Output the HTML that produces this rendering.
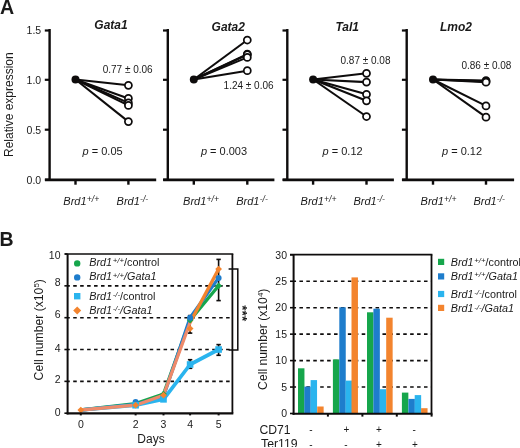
<!DOCTYPE html>
<html><head><meta charset="utf-8"><style>
html,body{margin:0;padding:0;background:#fff;}
svg{display:block;will-change:transform;font-family:"Liberation Sans",sans-serif;}
</style></head><body>
<svg width="520" height="448" viewBox="0 0 520 448">
<rect width="520" height="448" fill="#fff"/>
<text x="0" y="13.9" font-size="19.6" text-anchor="start" font-weight="bold" font-style="normal" fill="#1a1a1a" >A</text>
<text transform="translate(12.6,157) rotate(-90)" font-size="12" fill="#1a1a1a">Relative expression</text>
<text x="41.2" y="34.4" font-size="10.5" text-anchor="end" font-weight="normal" font-style="normal" fill="#1a1a1a" >1.5</text>
<text x="41.2" y="83.7" font-size="10.5" text-anchor="end" font-weight="normal" font-style="normal" fill="#1a1a1a" >1.0</text>
<text x="41.2" y="133.6" font-size="10.5" text-anchor="end" font-weight="normal" font-style="normal" fill="#1a1a1a" >0.5</text>
<text x="41.2" y="183.6" font-size="10.5" text-anchor="end" font-weight="normal" font-style="normal" fill="#1a1a1a" >0.0</text>
<line x1="49.6" y1="29" x2="49.6" y2="180.9" stroke="#0e0c0c" stroke-width="2.4" />
<line x1="44.8" y1="30.5" x2="49.6" y2="30.5" stroke="#0e0c0c" stroke-width="2.2" />
<line x1="44.8" y1="79.8" x2="49.6" y2="79.8" stroke="#0e0c0c" stroke-width="2.2" />
<line x1="44.8" y1="129.7" x2="49.6" y2="129.7" stroke="#0e0c0c" stroke-width="2.2" />
<line x1="44.8" y1="179.7" x2="49.6" y2="179.7" stroke="#0e0c0c" stroke-width="2.2" />
<line x1="45" y1="179.8" x2="156.2" y2="179.8" stroke="#0e0c0c" stroke-width="2.7" />
<line x1="75.5" y1="179.7" x2="75.5" y2="184.7" stroke="#0e0c0c" stroke-width="2.4" />
<line x1="128.4" y1="179.7" x2="128.4" y2="184.7" stroke="#0e0c0c" stroke-width="2.4" />
<text x="94.3" y="29.4" font-size="12.0" text-anchor="start" font-weight="bold" font-style="italic" fill="#1a1a1a" >Gata1</text>
<text x="102.7" y="72.6" font-size="10" text-anchor="start" font-weight="normal" font-style="normal" fill="#1a1a1a" >0.77 ± 0.06</text>
<text x="82.6" y="155.0" font-size="11" fill="#1a1a1a"><tspan font-style="italic">p</tspan> = 0.05</text>
<text x="63.3" y="204.7" font-size="11" font-style="italic" fill="#1a1a1a">Brd1<tspan font-size="8.6" dy="-2.3" dx="0.2">+/+</tspan></text>
<text x="116.6" y="204.7" font-size="11" font-style="italic" fill="#1a1a1a">Brd1<tspan font-size="8.6" dy="-2.3" dx="0.2">-/-</tspan></text>
<line x1="75.5" y1="79.5" x2="128.4" y2="85.3" stroke="#0e0c0c" stroke-width="2.1" />
<line x1="75.5" y1="79.5" x2="128.4" y2="98.4" stroke="#0e0c0c" stroke-width="2.1" />
<line x1="75.5" y1="79.5" x2="128.4" y2="102.9" stroke="#0e0c0c" stroke-width="2.1" />
<line x1="75.5" y1="79.5" x2="128.4" y2="105.4" stroke="#0e0c0c" stroke-width="2.1" />
<line x1="75.5" y1="79.5" x2="128.4" y2="121.6" stroke="#0e0c0c" stroke-width="2.1" />
<circle cx="75.5" cy="79.5" r="4" fill="#0e0c0c"/>
<circle cx="128.4" cy="85.3" r="3.5" fill="#fff" stroke="#0e0c0c" stroke-width="1.75"/>
<circle cx="128.4" cy="98.4" r="3.5" fill="#fff" stroke="#0e0c0c" stroke-width="1.75"/>
<circle cx="128.4" cy="102.9" r="3.5" fill="#fff" stroke="#0e0c0c" stroke-width="1.75"/>
<circle cx="128.4" cy="105.4" r="3.5" fill="#fff" stroke="#0e0c0c" stroke-width="1.75"/>
<circle cx="128.4" cy="121.6" r="3.5" fill="#fff" stroke="#0e0c0c" stroke-width="1.75"/>
<line x1="167.8" y1="29" x2="167.8" y2="180.9" stroke="#0e0c0c" stroke-width="2.4" />
<line x1="163" y1="30.5" x2="167.8" y2="30.5" stroke="#0e0c0c" stroke-width="2.2" />
<line x1="163" y1="79.8" x2="167.8" y2="79.8" stroke="#0e0c0c" stroke-width="2.2" />
<line x1="163" y1="129.7" x2="167.8" y2="129.7" stroke="#0e0c0c" stroke-width="2.2" />
<line x1="163" y1="179.7" x2="167.8" y2="179.7" stroke="#0e0c0c" stroke-width="2.2" />
<line x1="163.2" y1="179.8" x2="274.4" y2="179.8" stroke="#0e0c0c" stroke-width="2.7" />
<line x1="193.8" y1="179.7" x2="193.8" y2="184.7" stroke="#0e0c0c" stroke-width="2.4" />
<line x1="247.3" y1="179.7" x2="247.3" y2="184.7" stroke="#0e0c0c" stroke-width="2.4" />
<text x="211.6" y="30.6" font-size="12.0" text-anchor="start" font-weight="bold" font-style="italic" fill="#1a1a1a" >Gata2</text>
<text x="223.6" y="89.4" font-size="10" text-anchor="start" font-weight="normal" font-style="normal" fill="#1a1a1a" >1.24 ± 0.06</text>
<text x="200.9" y="154.9" font-size="11" fill="#1a1a1a"><tspan font-style="italic">p</tspan> = 0.003</text>
<text x="183.1" y="204.7" font-size="11" font-style="italic" fill="#1a1a1a">Brd1<tspan font-size="8.6" dy="-2.3" dx="0.2">+/+</tspan></text>
<text x="236.2" y="204.7" font-size="11" font-style="italic" fill="#1a1a1a">Brd1<tspan font-size="8.6" dy="-2.3" dx="0.2">-/-</tspan></text>
<line x1="193.8" y1="79.5" x2="247.3" y2="40" stroke="#0e0c0c" stroke-width="2.1" />
<line x1="193.8" y1="79.5" x2="247.3" y2="54.2" stroke="#0e0c0c" stroke-width="2.1" />
<line x1="193.8" y1="79.5" x2="247.3" y2="54.6" stroke="#0e0c0c" stroke-width="2.1" />
<line x1="193.8" y1="79.5" x2="247.3" y2="57.4" stroke="#0e0c0c" stroke-width="2.1" />
<line x1="193.8" y1="79.5" x2="247.3" y2="70.7" stroke="#0e0c0c" stroke-width="2.1" />
<circle cx="193.8" cy="79.5" r="4" fill="#0e0c0c"/>
<circle cx="247.3" cy="40.0" r="3.5" fill="#fff" stroke="#0e0c0c" stroke-width="1.75"/>
<circle cx="247.3" cy="54.2" r="3.5" fill="#fff" stroke="#0e0c0c" stroke-width="1.75"/>
<circle cx="247.3" cy="54.6" r="3.5" fill="#fff" stroke="#0e0c0c" stroke-width="1.75"/>
<circle cx="247.3" cy="57.4" r="3.5" fill="#fff" stroke="#0e0c0c" stroke-width="1.75"/>
<circle cx="247.3" cy="70.7" r="3.5" fill="#fff" stroke="#0e0c0c" stroke-width="1.75"/>
<line x1="287.3" y1="29" x2="287.3" y2="180.9" stroke="#0e0c0c" stroke-width="2.4" />
<line x1="282.5" y1="30.5" x2="287.3" y2="30.5" stroke="#0e0c0c" stroke-width="2.2" />
<line x1="282.5" y1="79.8" x2="287.3" y2="79.8" stroke="#0e0c0c" stroke-width="2.2" />
<line x1="282.5" y1="129.7" x2="287.3" y2="129.7" stroke="#0e0c0c" stroke-width="2.2" />
<line x1="282.5" y1="179.7" x2="287.3" y2="179.7" stroke="#0e0c0c" stroke-width="2.2" />
<line x1="282.7" y1="179.8" x2="393.9" y2="179.8" stroke="#0e0c0c" stroke-width="2.7" />
<line x1="313.1" y1="179.7" x2="313.1" y2="184.7" stroke="#0e0c0c" stroke-width="2.4" />
<line x1="366.5" y1="179.7" x2="366.5" y2="184.7" stroke="#0e0c0c" stroke-width="2.4" />
<text x="335.4" y="30.7" font-size="12.0" text-anchor="start" font-weight="bold" font-style="italic" fill="#1a1a1a" >Tal1</text>
<text x="340.5" y="63.5" font-size="10" text-anchor="start" font-weight="normal" font-style="normal" fill="#1a1a1a" >0.87 ± 0.08</text>
<text x="322.6" y="155.0" font-size="11" fill="#1a1a1a"><tspan font-style="italic">p</tspan> = 0.12</text>
<text x="300.6" y="204.7" font-size="11" font-style="italic" fill="#1a1a1a">Brd1<tspan font-size="8.6" dy="-2.3" dx="0.2">+/+</tspan></text>
<text x="353.4" y="204.7" font-size="11" font-style="italic" fill="#1a1a1a">Brd1<tspan font-size="8.6" dy="-2.3" dx="0.2">-/-</tspan></text>
<line x1="313.1" y1="79.5" x2="366.5" y2="73.3" stroke="#0e0c0c" stroke-width="2.1" />
<line x1="313.1" y1="79.5" x2="366.5" y2="82.1" stroke="#0e0c0c" stroke-width="2.1" />
<line x1="313.1" y1="79.5" x2="366.5" y2="94.3" stroke="#0e0c0c" stroke-width="2.1" />
<line x1="313.1" y1="79.5" x2="366.5" y2="100.8" stroke="#0e0c0c" stroke-width="2.1" />
<line x1="313.1" y1="79.5" x2="366.5" y2="116.5" stroke="#0e0c0c" stroke-width="2.1" />
<circle cx="313.1" cy="79.5" r="4" fill="#0e0c0c"/>
<circle cx="366.5" cy="73.3" r="3.5" fill="#fff" stroke="#0e0c0c" stroke-width="1.75"/>
<circle cx="366.5" cy="82.1" r="3.5" fill="#fff" stroke="#0e0c0c" stroke-width="1.75"/>
<circle cx="366.5" cy="94.3" r="3.5" fill="#fff" stroke="#0e0c0c" stroke-width="1.75"/>
<circle cx="366.5" cy="100.8" r="3.5" fill="#fff" stroke="#0e0c0c" stroke-width="1.75"/>
<circle cx="366.5" cy="116.5" r="3.5" fill="#fff" stroke="#0e0c0c" stroke-width="1.75"/>
<line x1="406.7" y1="29" x2="406.7" y2="180.9" stroke="#0e0c0c" stroke-width="2.4" />
<line x1="401.9" y1="30.5" x2="406.7" y2="30.5" stroke="#0e0c0c" stroke-width="2.2" />
<line x1="401.9" y1="79.8" x2="406.7" y2="79.8" stroke="#0e0c0c" stroke-width="2.2" />
<line x1="401.9" y1="129.7" x2="406.7" y2="129.7" stroke="#0e0c0c" stroke-width="2.2" />
<line x1="401.9" y1="179.7" x2="406.7" y2="179.7" stroke="#0e0c0c" stroke-width="2.2" />
<line x1="402.1" y1="179.8" x2="514.1" y2="179.8" stroke="#0e0c0c" stroke-width="2.7" />
<line x1="433" y1="179.7" x2="433" y2="184.7" stroke="#0e0c0c" stroke-width="2.4" />
<line x1="486" y1="179.7" x2="486" y2="184.7" stroke="#0e0c0c" stroke-width="2.4" />
<text x="440" y="30.6" font-size="12.0" text-anchor="start" font-weight="bold" font-style="italic" fill="#1a1a1a" >Lmo2</text>
<text x="461.4" y="68.9" font-size="10" text-anchor="start" font-weight="normal" font-style="normal" fill="#1a1a1a" >0.86 ± 0.08</text>
<text x="442.0" y="155.0" font-size="11" fill="#1a1a1a"><tspan font-style="italic">p</tspan> = 0.12</text>
<text x="420.6" y="204.7" font-size="11" font-style="italic" fill="#1a1a1a">Brd1<tspan font-size="8.6" dy="-2.3" dx="0.2">+/+</tspan></text>
<text x="473.4" y="204.7" font-size="11" font-style="italic" fill="#1a1a1a">Brd1<tspan font-size="8.6" dy="-2.3" dx="0.2">-/-</tspan></text>
<line x1="433" y1="79.5" x2="486" y2="80.6" stroke="#0e0c0c" stroke-width="2.1" />
<line x1="433" y1="79.5" x2="486" y2="81.4" stroke="#0e0c0c" stroke-width="2.1" />
<line x1="433" y1="79.5" x2="486" y2="82.2" stroke="#0e0c0c" stroke-width="2.1" />
<line x1="433" y1="79.5" x2="486" y2="105.9" stroke="#0e0c0c" stroke-width="2.1" />
<line x1="433" y1="79.5" x2="486" y2="117.2" stroke="#0e0c0c" stroke-width="2.1" />
<circle cx="433.0" cy="79.5" r="4" fill="#0e0c0c"/>
<circle cx="486.0" cy="80.6" r="3.5" fill="#fff" stroke="#0e0c0c" stroke-width="1.75"/>
<circle cx="486.0" cy="81.4" r="3.5" fill="#fff" stroke="#0e0c0c" stroke-width="1.75"/>
<circle cx="486.0" cy="82.2" r="3.5" fill="#fff" stroke="#0e0c0c" stroke-width="1.75"/>
<circle cx="486.0" cy="105.9" r="3.5" fill="#fff" stroke="#0e0c0c" stroke-width="1.75"/>
<circle cx="486.0" cy="117.2" r="3.5" fill="#fff" stroke="#0e0c0c" stroke-width="1.75"/>
<text x="-0.5" y="245.5" font-size="19.5" text-anchor="start" font-weight="bold" font-style="normal" fill="#1a1a1a" >B</text>
<line x1="67.6" y1="381.36" x2="232.4" y2="381.36" stroke="#0e0c0c" stroke-width="1.6" stroke-dasharray="3.55 3.4" stroke-dashoffset="1.35"/>
<line x1="67.6" y1="349.52" x2="232.4" y2="349.52" stroke="#0e0c0c" stroke-width="1.6" stroke-dasharray="3.55 3.4" stroke-dashoffset="1.35"/>
<line x1="67.6" y1="317.68" x2="232.4" y2="317.68" stroke="#0e0c0c" stroke-width="1.6" stroke-dasharray="3.55 3.4" stroke-dashoffset="1.35"/>
<line x1="67.6" y1="285.84" x2="232.4" y2="285.84" stroke="#0e0c0c" stroke-width="1.6" stroke-dasharray="3.55 3.4" stroke-dashoffset="1.35"/>
<line x1="64.4" y1="413.2" x2="67.6" y2="413.2" stroke="#0e0c0c" stroke-width="1.6" />
<line x1="64.4" y1="381.36" x2="67.6" y2="381.36" stroke="#0e0c0c" stroke-width="1.6" />
<line x1="64.4" y1="349.52" x2="67.6" y2="349.52" stroke="#0e0c0c" stroke-width="1.6" />
<line x1="64.4" y1="317.68" x2="67.6" y2="317.68" stroke="#0e0c0c" stroke-width="1.6" />
<line x1="64.4" y1="285.84" x2="67.6" y2="285.84" stroke="#0e0c0c" stroke-width="1.6" />
<line x1="64.4" y1="254" x2="67.6" y2="254" stroke="#0e0c0c" stroke-width="1.6" />
<text x="60.5" y="415.9" font-size="10.5" text-anchor="end" font-weight="normal" font-style="normal" fill="#1a1a1a" >0</text>
<text x="60.5" y="382.6" font-size="10.5" text-anchor="end" font-weight="normal" font-style="normal" fill="#1a1a1a" >2</text>
<text x="60.5" y="351.7" font-size="10.5" text-anchor="end" font-weight="normal" font-style="normal" fill="#1a1a1a" >4</text>
<text x="60.5" y="318.1" font-size="10.5" text-anchor="end" font-weight="normal" font-style="normal" fill="#1a1a1a" >6</text>
<text x="60.5" y="286.3" font-size="10.5" text-anchor="end" font-weight="normal" font-style="normal" fill="#1a1a1a" >8</text>
<text x="60.5" y="258.7" font-size="10.5" text-anchor="end" font-weight="normal" font-style="normal" fill="#1a1a1a" >10</text>
<line x1="80.8" y1="413.4" x2="80.8" y2="415.4" stroke="#0e0c0c" stroke-width="2" />
<text x="80.8" y="428.1" font-size="10.5" text-anchor="middle" font-weight="normal" font-style="normal" fill="#1a1a1a" >0</text>
<line x1="135.6" y1="413.4" x2="135.6" y2="415.4" stroke="#0e0c0c" stroke-width="2" />
<text x="135.6" y="428.1" font-size="10.5" text-anchor="middle" font-weight="normal" font-style="normal" fill="#1a1a1a" >2</text>
<line x1="163.5" y1="413.4" x2="163.5" y2="415.4" stroke="#0e0c0c" stroke-width="2" />
<text x="163.5" y="428.1" font-size="10.5" text-anchor="middle" font-weight="normal" font-style="normal" fill="#1a1a1a" >3</text>
<line x1="190.1" y1="413.4" x2="190.1" y2="415.4" stroke="#0e0c0c" stroke-width="2" />
<text x="190.1" y="428.1" font-size="10.5" text-anchor="middle" font-weight="normal" font-style="normal" fill="#1a1a1a" >4</text>
<line x1="218.6" y1="413.4" x2="218.6" y2="415.4" stroke="#0e0c0c" stroke-width="2" />
<text x="218.6" y="428.1" font-size="10.5" text-anchor="middle" font-weight="normal" font-style="normal" fill="#1a1a1a" >5</text>
<text x="151" y="443.4" font-size="12" text-anchor="middle" font-weight="normal" font-style="normal" fill="#1a1a1a" >Days</text>
<text transform="translate(43.0,380.4) rotate(-90)" font-size="12.2" fill="#1a1a1a">Cell number (x10<tspan font-size="8" dy="-4.5">5</tspan><tspan dy="4.5">)</tspan></text>
<circle cx="77.2" cy="263.4" r="3.2" fill="#16a64c"/>
<text x="89.3" y="265.7" font-size="10.8" fill="#1a1a1a"><tspan font-style="italic">Brd1</tspan><tspan font-style="italic" font-size="7.8" dy="-2.5" dx="0.6">+/+</tspan><tspan dy="2.5">/control</tspan></text>
<circle cx="77.2" cy="277.4" r="3.2" fill="#1e7dcc"/>
<text x="89.3" y="280.1" font-size="10.8" fill="#1a1a1a"><tspan font-style="italic">Brd1</tspan><tspan font-style="italic" font-size="7.8" dy="-2.5" dx="0.6">+/+</tspan><tspan dy="2.5"><tspan font-style="italic">/Gata1</tspan></tspan></text>
<rect x="74" y="293" width="6.4" height="6.4" fill="#2ab4ee"/>
<text x="89.3" y="299.7" font-size="10.8" fill="#1a1a1a"><tspan font-style="italic">Brd1</tspan><tspan font-style="italic" font-size="7.8" dy="-2.5" dx="0.6">-/-</tspan><tspan dy="2.5">/control</tspan></text>
<polygon points="77.2,306.4 81.2,310.4 77.2,314.4 73.2,310.4" fill="#f3842e"/>
<text x="89.3" y="313.8" font-size="10.8" fill="#1a1a1a"><tspan font-style="italic">Brd1</tspan><tspan font-style="italic" font-size="7.8" dy="-2.5" dx="0.6">-/-</tspan><tspan dy="2.5"><tspan font-style="italic">/Gata1</tspan></tspan></text>
<line x1="218.6" y1="259.4" x2="218.6" y2="300.6" stroke="#0e0c0c" stroke-width="1.6" />
<line x1="216.4" y1="259.4" x2="220.8" y2="259.4" stroke="#0e0c0c" stroke-width="1.6" />
<line x1="216.4" y1="300.6" x2="220.8" y2="300.6" stroke="#0e0c0c" stroke-width="1.6" />
<line x1="190.1" y1="315.6" x2="190.1" y2="333.1" stroke="#0e0c0c" stroke-width="1.6" />
<line x1="187.9" y1="315.6" x2="192.3" y2="315.6" stroke="#0e0c0c" stroke-width="1.6" />
<line x1="187.9" y1="333.1" x2="192.3" y2="333.1" stroke="#0e0c0c" stroke-width="1.6" />
<line x1="190.1" y1="359.7" x2="190.1" y2="368.3" stroke="#0e0c0c" stroke-width="1.6" />
<line x1="187.9" y1="359.7" x2="192.3" y2="359.7" stroke="#0e0c0c" stroke-width="1.6" />
<line x1="187.9" y1="368.3" x2="192.3" y2="368.3" stroke="#0e0c0c" stroke-width="1.6" />
<line x1="218.6" y1="344.6" x2="218.6" y2="355.3" stroke="#0e0c0c" stroke-width="1.6" />
<line x1="216.4" y1="344.6" x2="220.8" y2="344.6" stroke="#0e0c0c" stroke-width="1.6" />
<line x1="216.4" y1="355.3" x2="220.8" y2="355.3" stroke="#0e0c0c" stroke-width="1.6" />
<polyline points="80.8,410.0 135.6,403.6 163.5,394.1 190.1,320.1 218.6,285.8" fill="none" stroke="#16a64c" stroke-width="3.3" stroke-linejoin="round"/>
<polyline points="80.8,410.0 135.6,404.3 163.5,396.5 190.1,317.7 218.6,277.9" fill="none" stroke="#1e7dcc" stroke-width="3.3" stroke-linejoin="round"/>
<polyline points="80.8,410.0 135.6,405.2 163.5,399.3 190.1,364.5 218.6,349.5" fill="none" stroke="#2ab4ee" stroke-width="3.6999999999999997" stroke-linejoin="round"/>
<polyline points="80.8,410.0 135.6,405.2 163.5,395.2 190.1,322.5" fill="none" stroke="#ee8a6a" stroke-width="3.3" stroke-linejoin="round"/>
<polyline points="190.1,322.5 218.6,269.1" fill="none" stroke="#f3842e" stroke-width="3.3" stroke-linejoin="round"/>
<polygon points="135.6,400.27299999999997 138.975,403.64799999999997 135.6,407.02299999999997 132.225,403.64799999999997" fill="#16a64c"/>
<polygon points="163.5,390.721 166.875,394.096 163.5,397.471 160.125,394.096" fill="#16a64c"/>
<polygon points="190.1,316.693 193.475,320.068 190.1,323.443 186.725,320.068" fill="#16a64c"/>
<polygon points="218.6,282.465 221.975,285.84 218.6,289.215 215.225,285.84" fill="#16a64c"/>
<circle cx="135.6" cy="402.056" r="3.0" fill="#1e7dcc"/>
<circle cx="163.5" cy="396.484" r="3.0" fill="#1e7dcc"/>
<circle cx="190.1" cy="317.68" r="3.0" fill="#1e7dcc"/>
<circle cx="218.6" cy="277.88" r="3.0" fill="#1e7dcc"/>
<rect x="132.3" y="401.94" width="6.6" height="6.6" fill="#2ab4ee"/>
<rect x="160.2" y="396.05" width="6.6" height="6.6" fill="#2ab4ee"/>
<rect x="186.8" y="361.18" width="6.6" height="6.6" fill="#2ab4ee"/>
<rect x="215.3" y="346.22" width="6.6" height="6.6" fill="#2ab4ee"/>
<polygon points="80.8,406.64099999999996 84.175,410.01599999999996 80.8,413.39099999999996 77.425,410.01599999999996" fill="#f3842e"/>
<polygon points="135.6,401.865 138.975,405.24 135.6,408.615 132.225,405.24" fill="#f3842e"/>
<polygon points="163.5,391.8354 166.875,395.2104 163.5,398.5854 160.125,395.2104" fill="#f3842e"/>
<polygon points="190.1,325.13059999999996 193.475,328.50559999999996 190.1,331.88059999999996 186.725,328.50559999999996" fill="#f3842e"/>
<polygon points="218.6,265.74899999999997 221.975,269.12399999999997 218.6,272.49899999999997 215.225,269.12399999999997" fill="#f3842e"/>
<line x1="67.6" y1="254" x2="67.6" y2="414.4" stroke="#0e0c0c" stroke-width="2" />
<line x1="65.1" y1="254" x2="233.3" y2="254" stroke="#0e0c0c" stroke-width="1.7" />
<line x1="232.4" y1="254" x2="232.4" y2="413.4" stroke="#0e0c0c" stroke-width="1.8" />
<line x1="66.6" y1="413.4" x2="233.3" y2="413.4" stroke="#0e0c0c" stroke-width="2.1" />
<polyline points="228.6,269 237.8,269 237.8,350 228.6,350" fill="none" stroke="#0e0c0c" stroke-width="1.5"/>
<text transform="translate(237.6,305.3) rotate(90)" font-size="13.6" font-weight="bold" fill="#1a1a1a">***</text>
<line x1="293.6" y1="387.05" x2="431.5" y2="387.05" stroke="#0e0c0c" stroke-width="1.6" stroke-dasharray="3.55 3.37" stroke-dashoffset="1.1"/>
<line x1="293.6" y1="360.6" x2="431.5" y2="360.6" stroke="#0e0c0c" stroke-width="1.6" stroke-dasharray="3.55 3.37" stroke-dashoffset="1.1"/>
<line x1="293.6" y1="334.15" x2="431.5" y2="334.15" stroke="#0e0c0c" stroke-width="1.6" stroke-dasharray="3.55 3.37" stroke-dashoffset="1.1"/>
<line x1="293.6" y1="307.7" x2="431.5" y2="307.7" stroke="#0e0c0c" stroke-width="1.6" stroke-dasharray="3.55 3.37" stroke-dashoffset="1.1"/>
<line x1="293.6" y1="281.25" x2="431.5" y2="281.25" stroke="#0e0c0c" stroke-width="1.6" stroke-dasharray="3.55 3.37" stroke-dashoffset="1.1"/>
<line x1="290" y1="413.5" x2="293.6" y2="413.5" stroke="#0e0c0c" stroke-width="1.6" />
<text x="287" y="417.2" font-size="10.5" text-anchor="end" font-weight="normal" font-style="normal" fill="#1a1a1a" >0</text>
<line x1="290" y1="387.05" x2="293.6" y2="387.05" stroke="#0e0c0c" stroke-width="1.6" />
<text x="287" y="390.75" font-size="10.5" text-anchor="end" font-weight="normal" font-style="normal" fill="#1a1a1a" >5</text>
<line x1="290" y1="360.6" x2="293.6" y2="360.6" stroke="#0e0c0c" stroke-width="1.6" />
<text x="287" y="364.3" font-size="10.5" text-anchor="end" font-weight="normal" font-style="normal" fill="#1a1a1a" >10</text>
<line x1="290" y1="334.15" x2="293.6" y2="334.15" stroke="#0e0c0c" stroke-width="1.6" />
<text x="287" y="337.85" font-size="10.5" text-anchor="end" font-weight="normal" font-style="normal" fill="#1a1a1a" >15</text>
<line x1="290" y1="307.7" x2="293.6" y2="307.7" stroke="#0e0c0c" stroke-width="1.6" />
<text x="287" y="311.4" font-size="10.5" text-anchor="end" font-weight="normal" font-style="normal" fill="#1a1a1a" >20</text>
<line x1="290" y1="281.25" x2="293.6" y2="281.25" stroke="#0e0c0c" stroke-width="1.6" />
<text x="287" y="284.95" font-size="10.5" text-anchor="end" font-weight="normal" font-style="normal" fill="#1a1a1a" >25</text>
<line x1="290" y1="254.8" x2="293.6" y2="254.8" stroke="#0e0c0c" stroke-width="1.6" />
<text x="287" y="258.5" font-size="10.5" text-anchor="end" font-weight="normal" font-style="normal" fill="#1a1a1a" >30</text>
<rect x="298" y="368.3" width="6.45" height="45.5" fill="#16a64c"/>
<rect x="304.3" y="386.6" width="6.45" height="27.2" fill="#1e7dcc"/>
<rect x="310.6" y="380.1" width="6.45" height="33.7" fill="#2ab4ee"/>
<rect x="317.2" y="406.5" width="6.45" height="7.3" fill="#f3842e"/>
<rect x="332.9" y="359.4" width="6.45" height="54.4" fill="#16a64c"/>
<rect x="339.3" y="307.3" width="6.45" height="106.5" fill="#1e7dcc"/>
<rect x="345.6" y="380.6" width="6.45" height="33.2" fill="#2ab4ee"/>
<rect x="351.5" y="277.4" width="6.45" height="136.4" fill="#f3842e"/>
<rect x="367" y="312.3" width="6.45" height="101.5" fill="#16a64c"/>
<rect x="373.4" y="308.7" width="6.45" height="105.1" fill="#1e7dcc"/>
<rect x="379.8" y="389.2" width="6.45" height="24.6" fill="#2ab4ee"/>
<rect x="386.2" y="317.7" width="6.45" height="96.1" fill="#f3842e"/>
<rect x="401.9" y="392.6" width="6.45" height="21.2" fill="#16a64c"/>
<rect x="408.4" y="398.9" width="6.45" height="14.9" fill="#1e7dcc"/>
<rect x="414.7" y="395.1" width="6.45" height="18.7" fill="#2ab4ee"/>
<rect x="421.1" y="408.2" width="6.45" height="5.6" fill="#f3842e"/>
<line x1="327.9" y1="413.8" x2="327.9" y2="416.6" stroke="#0e0c0c" stroke-width="2" />
<line x1="362.4" y1="413.8" x2="362.4" y2="416.6" stroke="#0e0c0c" stroke-width="2" />
<line x1="396.8" y1="413.8" x2="396.8" y2="416.6" stroke="#0e0c0c" stroke-width="2" />
<line x1="431.6" y1="413.8" x2="431.6" y2="416.6" stroke="#0e0c0c" stroke-width="2" />
<line x1="293.6" y1="254.6" x2="293.6" y2="414.8" stroke="#0e0c0c" stroke-width="2" />
<line x1="290" y1="254.6" x2="432.4" y2="254.6" stroke="#0e0c0c" stroke-width="1.7" />
<line x1="431.5" y1="254.6" x2="431.5" y2="413.8" stroke="#0e0c0c" stroke-width="1.8" />
<line x1="292.6" y1="413.8" x2="432.4" y2="413.8" stroke="#0e0c0c" stroke-width="2.1" />
<text x="259.4" y="433.8" font-size="12.2" text-anchor="start" font-weight="normal" font-style="normal" fill="#1a1a1a" >CD71</text>
<clipPath id="cpT"><rect x="250" y="430" width="60" height="17.0"/></clipPath>
<g clip-path="url(#cpT)">
<text x="261" y="447.9" font-size="12.3" text-anchor="start" font-weight="normal" font-style="normal" fill="#1a1a1a" >Ter119</text>
</g>
<text x="310.8" y="433.2" font-size="10" text-anchor="middle" font-weight="normal" font-style="normal" fill="#1a1a1a" >-</text>
<text x="346.4" y="433.2" font-size="10" text-anchor="middle" font-weight="normal" font-style="normal" fill="#1a1a1a" >+</text>
<text x="378.8" y="433.2" font-size="10" text-anchor="middle" font-weight="normal" font-style="normal" fill="#1a1a1a" >+</text>
<text x="414.2" y="433.2" font-size="10" text-anchor="middle" font-weight="normal" font-style="normal" fill="#1a1a1a" >-</text>
<text x="310.8" y="447.6" font-size="10" text-anchor="middle" font-weight="normal" font-style="normal" fill="#1a1a1a" >-</text>
<text x="346" y="447.6" font-size="10" text-anchor="middle" font-weight="normal" font-style="normal" fill="#1a1a1a" >-</text>
<text x="378.8" y="447.6" font-size="10" text-anchor="middle" font-weight="normal" font-style="normal" fill="#1a1a1a" >+</text>
<text x="415" y="447.6" font-size="10" text-anchor="middle" font-weight="normal" font-style="normal" fill="#1a1a1a" >+</text>
<text transform="translate(267.3,389.9) rotate(-90)" font-size="12.2" fill="#1a1a1a">Cell number (x10<tspan font-size="8" dy="-4.5">4</tspan><tspan dy="4.5">)</tspan></text>
<rect x="438" y="258.8" width="6.2" height="6.2" fill="#16a64c"/>
<text x="450.8" y="265.6" font-size="10.8" fill="#1a1a1a"><tspan font-style="italic">Brd1</tspan><tspan font-style="italic" font-size="7.8" dy="-2.5" dx="0.6">+/+</tspan><tspan dy="2.5">/control</tspan></text>
<rect x="438" y="273.3" width="6.2" height="6.2" fill="#1e7dcc"/>
<text x="450.8" y="279.8" font-size="10.8" fill="#1a1a1a"><tspan font-style="italic">Brd1</tspan><tspan font-style="italic" font-size="7.8" dy="-2.5" dx="0.6">+/+</tspan><tspan dy="2.5"><tspan font-style="italic">/Gata1</tspan></tspan></text>
<rect x="438" y="290.9" width="6.2" height="6.2" fill="#2ab4ee"/>
<text x="450.8" y="297.6" font-size="10.8" fill="#1a1a1a"><tspan font-style="italic">Brd1</tspan><tspan font-style="italic" font-size="7.8" dy="-2.5" dx="0.6">-/-</tspan><tspan dy="2.5">/control</tspan></text>
<rect x="438" y="304.8" width="6.2" height="6.2" fill="#f3842e"/>
<text x="450.8" y="312.2" font-size="10.8" fill="#1a1a1a"><tspan font-style="italic">Brd1</tspan><tspan font-style="italic" font-size="7.8" dy="-2.5" dx="0.6">-/-</tspan><tspan dy="2.5"><tspan font-style="italic">/Gata1</tspan></tspan></text>
</svg>
</body></html>
